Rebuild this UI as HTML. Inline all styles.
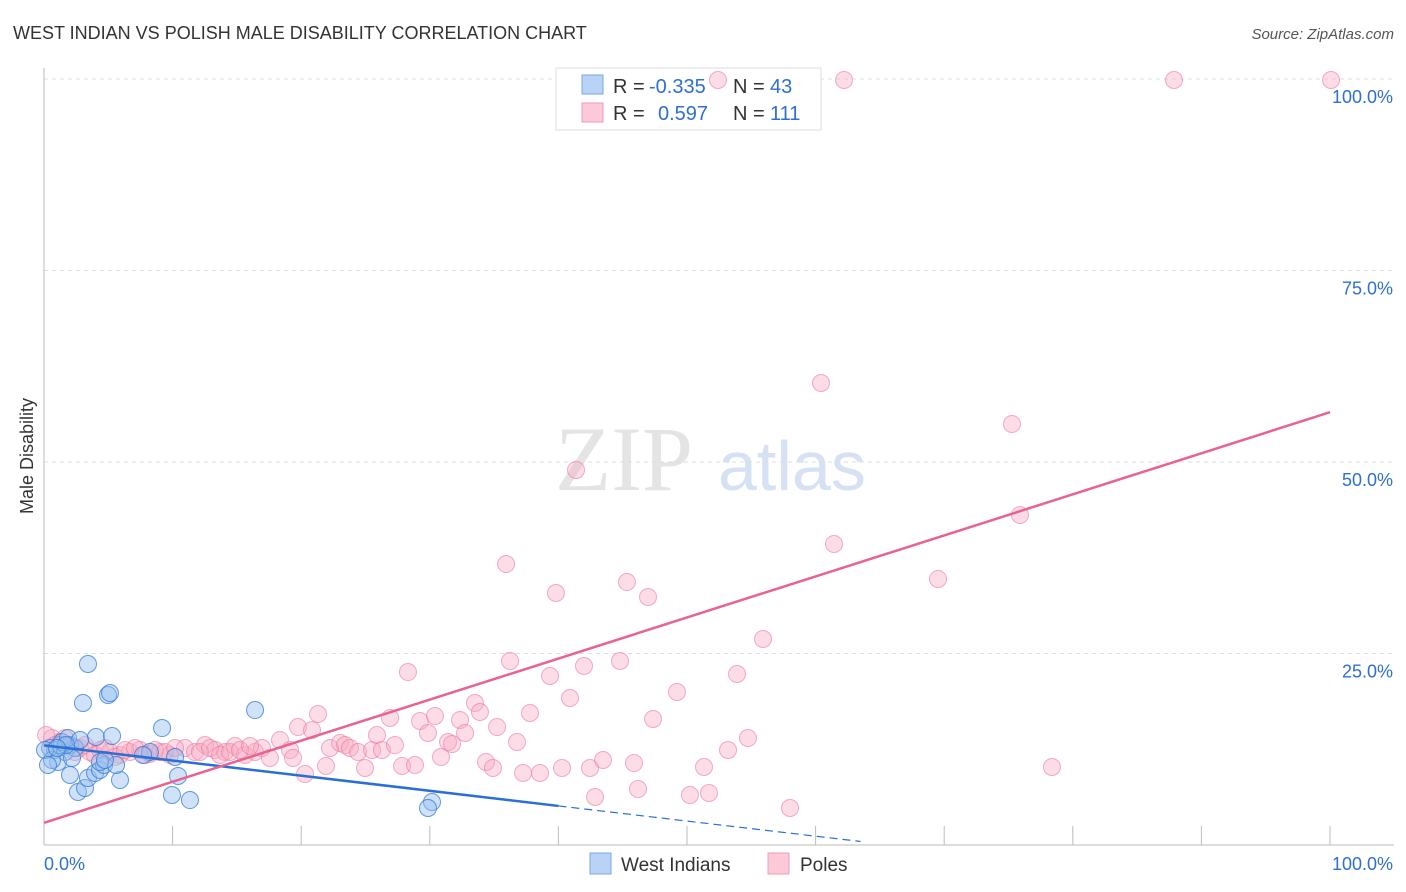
<!DOCTYPE html>
<html><head><meta charset="utf-8"><style>
body{margin:0;background:#fff;font-family:"Liberation Sans",sans-serif}
#c{position:absolute;left:0;top:0}
</style></head><body>
<svg id="c" width="1406" height="892" xmlns="http://www.w3.org/2000/svg">
<text x="13" y="39" font-size="18" fill="#333">WEST INDIAN VS POLISH MALE DISABILITY CORRELATION CHART</text>
<text x="1394" y="39" font-size="15" fill="#555" font-style="italic" text-anchor="end">Source: ZipAtlas.com</text>
<text x="33" y="456" font-size="18" fill="#333" transform="rotate(-90 33 456)" text-anchor="middle">Male Disability</text>
<text x="555" y="490" font-size="92" fill="#e4e4e4" font-family="Liberation Serif">ZIP</text>
<text x="718" y="490" font-size="70" fill="#d6e2f4">atlas</text>
<g id="grid"></g>
<g>
<rect x="556" y="68" width="265" height="62" fill="#fff" stroke="#ddd"/>
<rect x="582" y="75" width="21" height="19" fill="#b8d3f5" stroke="#7aa8e6"/>
<rect x="582" y="103" width="21" height="19" fill="#fcc9d9" stroke="#f09bb6"/>
<text x="613" y="93" font-size="20" fill="#333">R =</text>
<text x="649" y="93" font-size="20" fill="#2e6fd4">-0.335</text>
<text x="733" y="93" font-size="20" fill="#333">N =</text>
<text x="770" y="93" font-size="20" fill="#2e6fd4">43</text>
<text x="613" y="120" font-size="20" fill="#333">R =</text>
<text x="658" y="120" font-size="20" fill="#2e6fd4">0.597</text>
<text x="733" y="120" font-size="20" fill="#333">N =</text>
<text x="770" y="120" font-size="20" fill="#2e6fd4">111</text>
</g>
<g id="pts"></g><g id="lines"></g>
<g>
<rect x="590" y="853" width="21" height="21" fill="#b8d3f5" stroke="#7aa8e6"/>
<text x="621" y="871" font-size="19" fill="#333">West Indians</text>
<rect x="768" y="853" width="21" height="21" fill="#fcc9d9" stroke="#f09bb6"/>
<text x="800" y="871" font-size="19" fill="#333">Poles</text>
</g>
</svg>
<script>
const yTicks=[25,50,75,100];
const yTickLabels=["25.0%","50.0%","75.0%","100.0%"];
const xTickLabels=["0.0%","100.0%"];
const blueTrend=[13.0,5.1];
const pinkTrend=[2.9,56.5];
const bluePx=[[50,748],[55,750],[60,745],[65,752],[70,745],[75,748],[58,762],[70,775],[78,792],[85,788],[88,664],[83,703],[108,695],[110,693],[96,737],[112,736],[88,778],[95,773],[100,770],[104,765],[120,780],[116,765],[162,728],[255,710],[175,757],[178,776],[172,795],[190,800],[432,802],[428,808],[52,760],[62,742],[68,738],[80,740],[72,758],[45,750],[48,765],[100,762],[105,760],[150,752],[143,755],[66,745],[57,748]];
const pinkPx=[[52,738],[60,742],[70,745],[80,748],[90,752],[100,750],[110,752],[120,755],[130,752],[140,750],[150,754],[160,752],[170,755],[185,748],[195,752],[205,745],[215,750],[225,752],[235,746],[245,755],[255,752],[262,748],[270,758],[280,740],[290,750],[293,758],[305,774],[298,727],[312,730],[318,714],[326,766],[330,748],[340,743],[345,745],[350,748],[358,752],[365,768],[372,750],[377,735],[382,750],[390,718],[395,745],[402,766],[408,672],[415,765],[420,721],[428,733],[435,716],[441,757],[448,742],[452,744],[460,720],[465,733],[475,703],[480,712],[486,762],[493,768],[497,727],[506,564],[510,661],[517,742],[523,773],[530,713],[540,773],[550,676],[556,593],[562,768],[570,698],[576,470],[584,666],[590,768],[595,797],[603,760],[620,661],[627,582],[634,763],[638,789],[648,597],[653,719],[677,692],[690,795],[704,767],[709,793],[718,80],[728,750],[737,674],[748,738],[763,639],[790,808],[821,383],[834,544],[844,80],[938,579],[1012,424],[1020,515],[1052,767],[1174,80],[1331,80],[46,735],[55,745],[65,738],[75,752],[85,745],[95,755],[105,748],[115,757],[125,750],[135,748],[145,755],[155,750],[165,752],[175,748],[200,752],[210,748],[220,755],[230,752],[240,750],[250,746]];
const blueX=bluePx.map(p=>+((p[0]-44)/12.86).toFixed(2)), blueY=bluePx.map(p=>+((845-p[1])/7.66).toFixed(2));
const pinkX=pinkPx.map(p=>+((p[0]-44)/12.86).toFixed(2)), pinkY=pinkPx.map(p=>+((845-p[1])/7.66).toFixed(2));
const X0=44,X1=1330,Y0=845,Y1=79;
const sx=v=>X0+(X1-X0)*v/100, sy=v=>Y0-(Y0-Y1)*v/100;
const NS="http://www.w3.org/2000/svg";
function mk(t,a,p){const e=document.createElementNS(NS,t);for(const k in a)e.setAttribute(k,a[k]);p.appendChild(e);return e;}
const g=document.getElementById('grid');
yTicks.forEach((t,i)=>{const l=mk('line',{x1:X0,x2:1394,y1:sy(t),y2:sy(t),stroke:'#ddd','stroke-dasharray':'4,4'},g);

const tx=mk('text',{x:1393,y:sy(t)+24,'font-size':18,fill:'#2e6fd4','text-anchor':'end'},g);tx.textContent=yTickLabels[i];
});
const ax=mk('line',{x1:X0,x2:X0,y1:68,y2:Y0,stroke:'#bbb'},g);
const bx=mk('line',{x1:X0,x2:1394,y1:Y0,y2:Y0,stroke:'#bbb'},g);
for(let i=1;i<=10;i++){const t=mk('line',{x1:sx(i*10),x2:sx(i*10),y1:826,y2:Y0,stroke:'#bbb'},g);}
const l0=mk('text',{x:44,y:870,'font-size':18,fill:'#2e6fd4'},g);l0.textContent=xTickLabels[0];
const l1=mk('text',{x:1393,y:870,'font-size':18,fill:'#2e6fd4','text-anchor':'end'},g);l1.textContent=xTickLabels[1];
const P=document.getElementById('pts');
pinkX.forEach((x,i)=>{const c=mk('circle',{cx:sx(x),cy:sy(pinkY[i]),r:8.5,fill:'rgba(248,170,195,0.4)',stroke:'rgba(236,120,155,0.6)','stroke-width':1},P);
});
blueX.forEach((x,i)=>{const c=mk('circle',{cx:sx(x),cy:sy(blueY[i]),r:8.5,fill:'rgba(150,190,240,0.45)',stroke:'rgba(50,120,215,0.75)','stroke-width':1},P);
});
const L=document.getElementById('lines');
const by=x=>blueTrend[0]+(blueTrend[1]-blueTrend[0])*x/40;
const b1=mk('line',{x1:sx(0),y1:sy(by(0)),x2:sx(40),y2:sy(by(40)),stroke:'#2a6fd6','stroke-width':2.5},L);

const b2=mk('line',{x1:sx(40),y1:sy(by(40)),x2:sx(63.5),y2:sy(by(63.5)),stroke:'#2a6fd6','stroke-width':1.2,'stroke-dasharray':'8,5'},L);

const p1=mk('line',{x1:sx(0),y1:sy(pinkTrend[0]),x2:sx(100),y2:sy(pinkTrend[1]),stroke:'#e8638f','stroke-width':2.5},L);

</script>
</body></html>
